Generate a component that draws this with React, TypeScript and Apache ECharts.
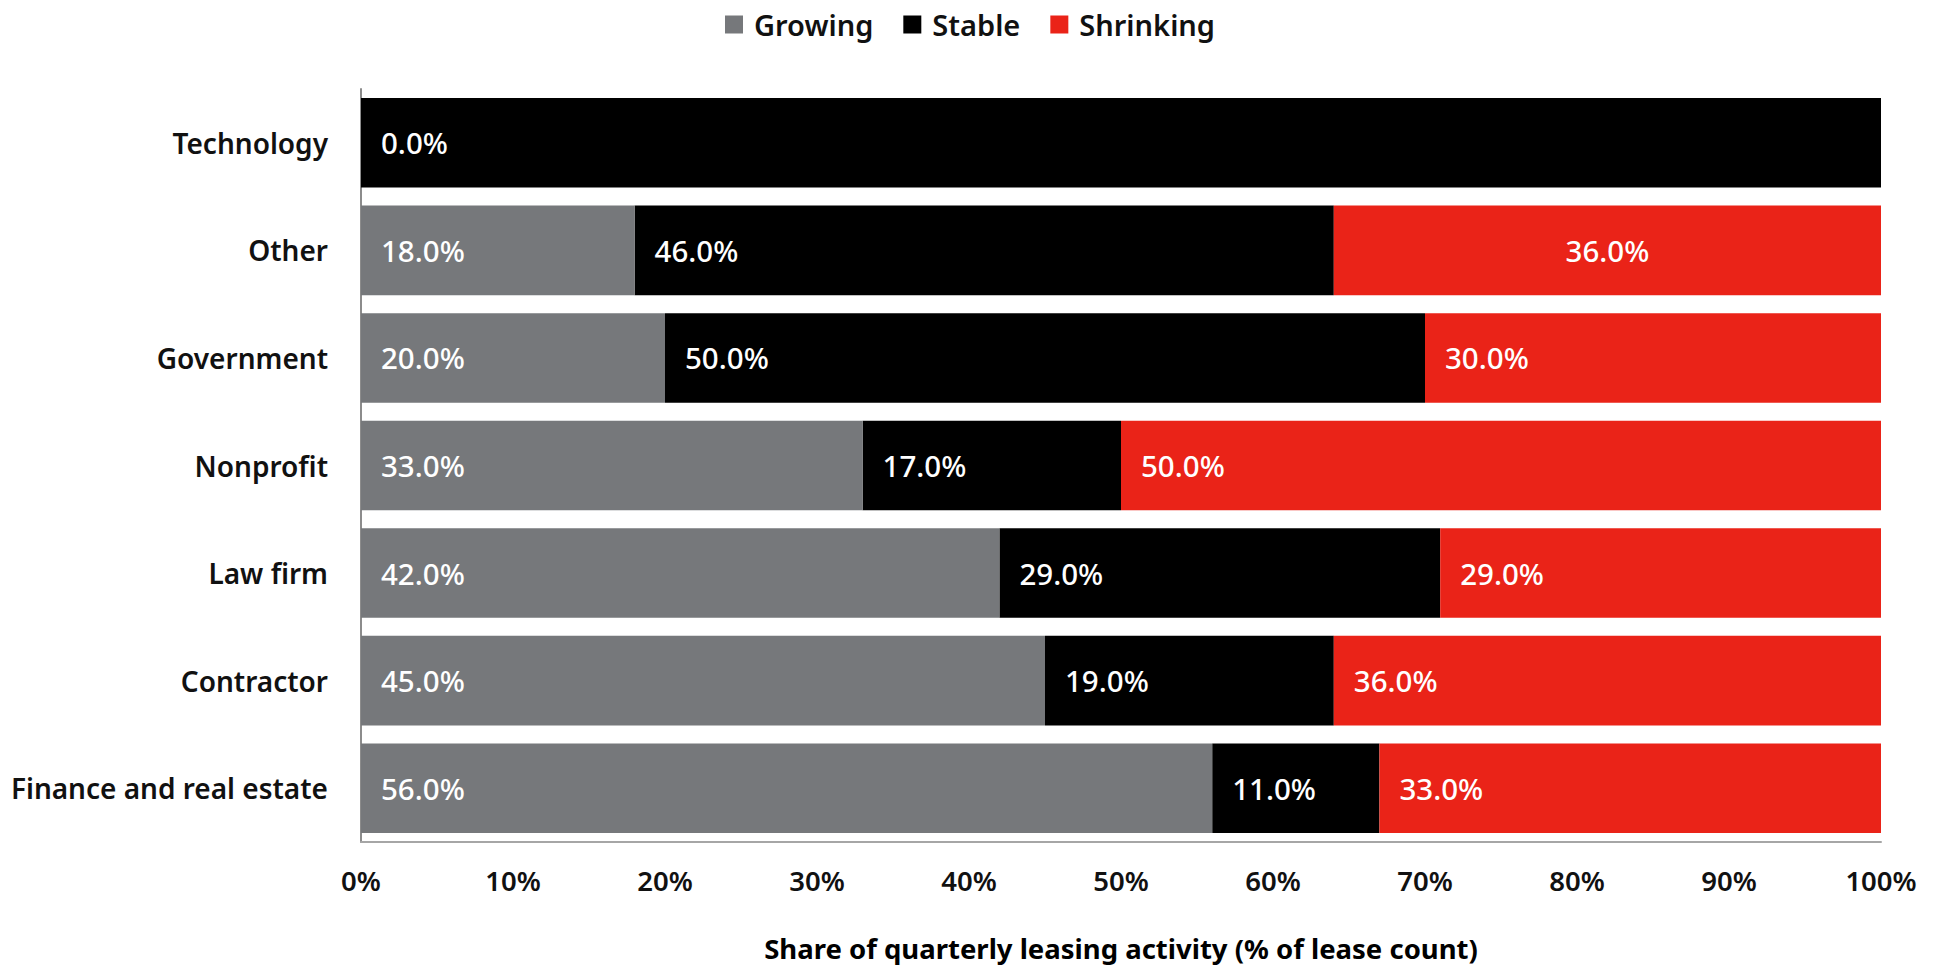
import React, { useEffect, useRef } from "react";
import * as echarts from "echarts";

const categories = [
  "Finance and real estate",
  "Contractor",
  "Law firm",
  "Nonprofit",
  "Government",
  "Other",
  "Technology",
];
const growing = [56, 45, 42, 33, 20, 18, 0];
const stable = [11, 19, 29, 17, 50, 46, 100];
const shrinking = [33, 36, 29, 50, 30, 36, 0];
const xTicks = [0, 10, 20, 30, 40, 50, 60, 70, 80, 90, 100];

const FONT = "'Noto Sans', sans-serif";

export default function App() {
  const ref = useRef<HTMLDivElement>(null);
  useEffect(() => {
    if (!ref.current) return;
    const chart = echarts.init(ref.current, null, { renderer: "svg" });
    const labelBase = {
      show: true,
      color: "#ffffff",
      fontFamily: FONT,
      fontSize: 29.5,
      fontWeight: 500,
      position: "insideLeft",
      distance: 20,
      formatter: (p: any) => `${Number(p.value).toFixed(1)}%`,
    };
    const growingData = growing.map((v) => ({ value: v }));
    const stableData = stable.map((v) => ({
      value: v,
      label: v >= 100 ? { show: false } : undefined,
    }));
    const shrinkingData = shrinking.map((v, i) => ({
      value: v,
      label:
        v === 0
          ? { show: false }
          : categories[i] === "Other"
          ? { position: "inside" }
          : undefined,
    }));
    chart.setOption({
      animation: false,
      textStyle: { fontFamily: FONT },
      legend: {
        top: 5,
        left: "center",
        itemWidth: 18,
        itemHeight: 18,
        itemGap: 30,
        icon: "rect",
        textStyle: { fontSize: 29, fontWeight: 600, color: "#111", fontFamily: FONT, padding: [0, 0, 0, 6] },
        data: ["Growing", "Stable", "Shrinking"],
      },
      grid: { left: 361, right: 59, top: 89, bottom: 119, containLabel: false },
      xAxis: {
        type: "value",
        min: xTicks[0],
        max: xTicks[xTicks.length - 1],
        interval: 10,
        axisLine: { show: true, lineStyle: { color: "#a6a6a6", width: 2 } },
        axisTick: { show: false },
        splitLine: { show: false },
        axisLabel: {
          formatter: "{value}%",
          fontSize: 27.5,
          fontWeight: 600,
          color: "#111",
          margin: 24,
          fontFamily: FONT,
        },
        name: "Share of quarterly leasing activity (% of lease count)",
        nameLocation: "middle",
        nameGap: 92,
        nameTextStyle: { fontSize: 27.5, fontWeight: 700, color: "#000", fontFamily: FONT },
      },
      yAxis: {
        type: "category",
        data: categories,
        axisLine: { show: true, lineStyle: { color: "#8c8c8c", width: 2 } },
        axisTick: { show: false },
        axisLabel: {
          fontSize: 28,
          fontWeight: 600,
          color: "#111",
          margin: 33,
          fontFamily: FONT,
        },
      },
      series: [
        {
          name: "Growing",
          type: "bar",
          stack: "total",
          barCategoryGap: "16.7%",
          z: 3,
          itemStyle: { color: "#76787b" },
          label: labelBase,
          data: growingData,
        },
        {
          name: "Stable",
          type: "bar",
          stack: "total",
          barCategoryGap: "16.7%",
          itemStyle: { color: "#000000" },
          label: labelBase,
          data: stableData,
        },
        {
          name: "Shrinking",
          type: "bar",
          stack: "total",
          barCategoryGap: "16.7%",
          itemStyle: { color: "#ea2318" },
          label: labelBase,
          data: shrinkingData,
        },
      ],
    });
    return () => chart.dispose();
  }, []);
  return (
    <div
      ref={ref}
      style={{ position: "fixed", left: 0, top: 0, width: 1940, height: 967, background: "#fff" }}
    />
  );
}
